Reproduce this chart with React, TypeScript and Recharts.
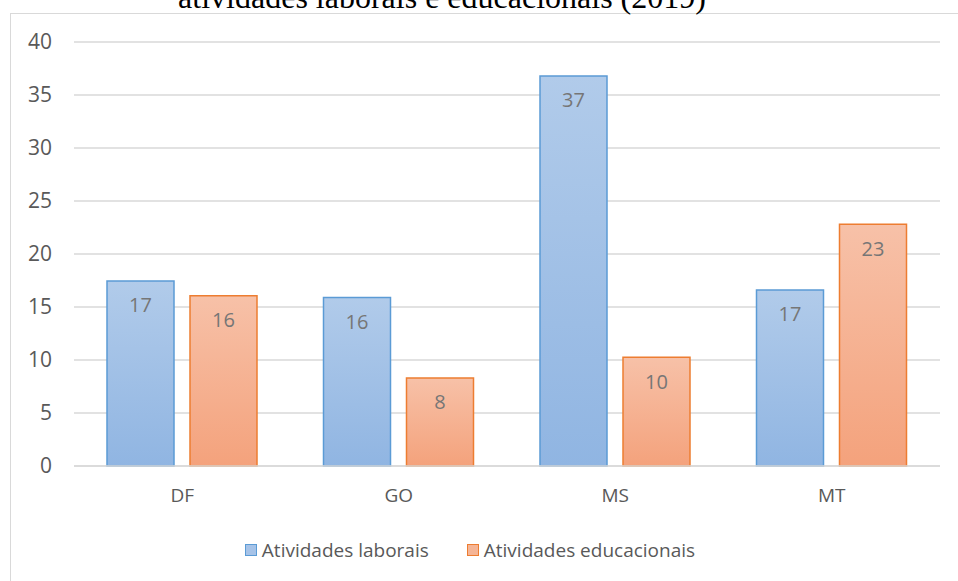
import React from 'react';
import { BarChart, Bar, XAxis, YAxis, CartesianGrid, Legend, LabelList } from 'recharts';

const categories = ['DF', 'GO', 'MS', 'MT'];
const laborais = [17.45, 15.9, 36.8, 16.6];
const educacionais = [16.05, 8.3, 10.25, 22.8];
const yTicks = [0, 5, 10, 15, 20, 25, 30, 35, 40];
const seriesNames = ['Atividades laborais', 'Atividades educacionais'];
const titleText = 'atividades laborais e educacionais (2019)';

const data = categories.map((c, i) => ({ name: c, lab: laborais[i], edu: educacionais[i] }));

const FONT = '"Open Sans", sans-serif';
const GRAY = '#595959';

const LegendContent = () => (
  <div style={{ display: 'flex', justifyContent: 'center', paddingTop: 31, fontFamily: FONT, fontSize: 19, color: GRAY }}>
    <div style={{ display: 'flex', alignItems: 'center', marginRight: 38 }}>
      <span style={{ width: 10, height: 10, border: '1.5px solid #5b9bd5', background: '#a6c3e8', marginRight: 5, display: 'inline-block' }} />
      {seriesNames[0]}
    </div>
    <div style={{ display: 'flex', alignItems: 'center' }}>
      <span style={{ width: 10, height: 10, border: '1.5px solid #ed7d31', background: '#f5b596', marginRight: 5, display: 'inline-block' }} />
      {seriesNames[1]}
    </div>
  </div>
);

export default function App() {
  return (
    <div style={{ position: 'fixed', left: 0, top: 0, width: 958, height: 581, overflow: 'hidden', background: '#fff' }}>
      <div style={{ position: 'absolute', left: 10, top: 13, width: 1000, height: 700, border: '1px solid #d9d9d9' }} />
      <div style={{ position: 'absolute', left: 0, width: 884, top: -21, textAlign: 'center', fontFamily: '"Liberation Serif", "Times New Roman", serif', fontSize: 32, lineHeight: '36px', color: '#000', whiteSpace: 'nowrap' }}>
        {titleText}
      </div>
      <div style={{ position: 'absolute', left: 0, top: 0 }}>
        <BarChart width={958} height={581} data={data} margin={{ top: 42, right: 18, left: 0, bottom: 0 }} barCategoryGap={33} barGap={16}>
          <defs>
            <linearGradient id="gBlue" x1="0" y1="0" x2="0" y2="1">
              <stop offset="0%" stopColor="#b1cbea" />
              <stop offset="100%" stopColor="#90b5e2" />
            </linearGradient>
            <linearGradient id="gOrange" x1="0" y1="0" x2="0" y2="1">
              <stop offset="0%" stopColor="#f7c1a8" />
              <stop offset="100%" stopColor="#f4a27c" />
            </linearGradient>
          </defs>
          <CartesianGrid vertical={false} stroke="#d9d9d9" strokeWidth={1.5} />
          <XAxis dataKey="name" height={40} axisLine={{ stroke: '#d9d9d9', strokeWidth: 1.5 }} tickLine={false} tickMargin={17} tick={{ fill: GRAY, fontSize: 19, fontFamily: FONT }} />
          <YAxis width={74} domain={[0, 40]} ticks={yTicks} axisLine={false} tickLine={false} tickMargin={16} tick={{ fill: GRAY, fontSize: 21, fontFamily: FONT }} />
          <Legend verticalAlign="bottom" height={75} content={<LegendContent />} />
          <Bar dataKey="lab" name={seriesNames[0]} fill="url(#gBlue)" stroke="#5b9bd5" strokeWidth={1.5} isAnimationActive={false}>
            <LabelList dataKey="lab" position="insideTop" offset={17} formatter={(v: number) => Math.round(v)} style={{ fill: '#767676', fontSize: 20, fontFamily: FONT }} />
          </Bar>
          <Bar dataKey="edu" name={seriesNames[1]} fill="url(#gOrange)" stroke="#ed7d31" strokeWidth={1.5} isAnimationActive={false}>
            <LabelList dataKey="edu" position="insideTop" offset={17} formatter={(v: number) => Math.round(v)} style={{ fill: '#767676', fontSize: 20, fontFamily: FONT }} />
          </Bar>
        </BarChart>
      </div>
    </div>
  );
}
